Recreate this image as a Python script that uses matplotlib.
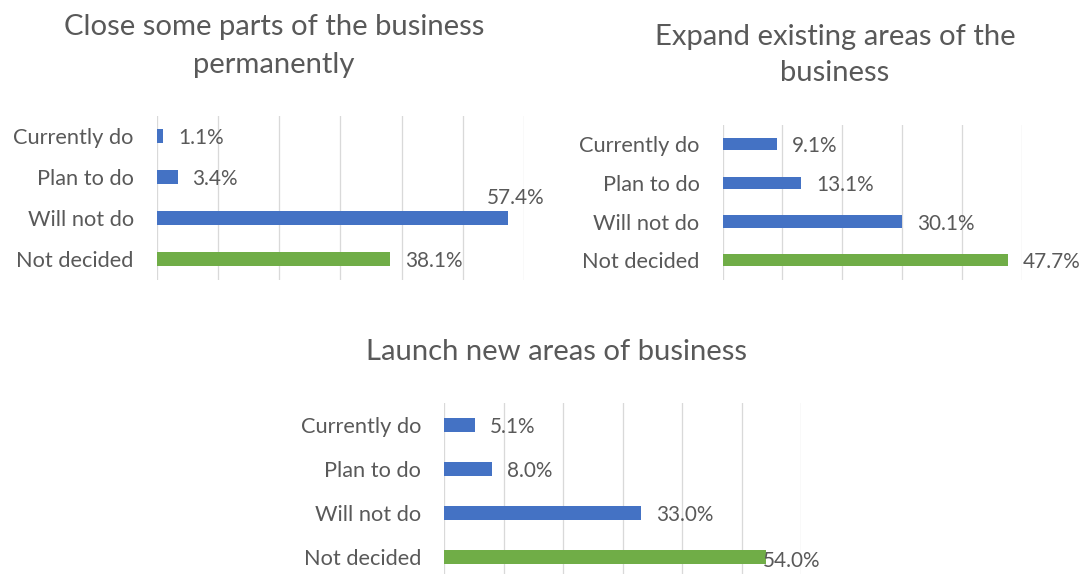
import matplotlib
matplotlib.use("Agg")
import matplotlib.pyplot as plt

# ---------------- data ----------------
categories = ["Currently do", "Plan to do", "Will not do", "Not decided"]
close_values = [1.1, 3.4, 57.4, 38.1]
expand_values = [9.1, 13.1, 30.1, 47.7]
launch_values = [5.1, 8.0, 33.0, 54.0]
titles = [
    "Close some parts of the business\npermanently",
    "Expand existing areas of the\nbusiness",
    "Launch new areas of business",
]

# ---------------- style ----------------
BLUE = "#4472C4"
GREEN = "#70AD47"
TEXT = "#595959"
GRID = "#D9D9D9"
FAMILY = ["Lato", "DejaVu Sans"]
bar_colors = [BLUE, BLUE, BLUE, GREEN]

W, H = 1083, 574
fig = plt.figure(figsize=(W / 100, H / 100), dpi=100)
fig.patch.set_facecolor("white")
renderer = fig.canvas.get_renderer()


def fit_size(text, target_px, base=20):
    t = fig.text(0, 0, text, fontsize=base, family=FAMILY)
    w = t.get_window_extent(renderer).width
    t.remove()
    return base * target_px / w


title_fs = fit_size("Launch new areas of business", 382)
tick_fs = fit_size("Not decided", 117.5)
label_fs = fit_size("47.7%", 57.5)

PX = 72 / 100  # points per pixel

# panel layout in pixels
panels = [
    dict(values=close_values, title=titles[0], x0=156.7, x1=524.0, ytop=115.5, ybot=279.5,
         xmax=60, tcx=274, tbase=[35, 73],
         special={2: ("above", 7.4, 21.6)}),
    dict(values=expand_values, title=titles[1], x0=722.5, x1=1021.5, ytop=125.0, ybot=279.5,
         xmax=50, tcx=835, tbase=[45, 81], special={}),
    dict(values=launch_values, title=titles[2], x0=444.3, x1=801.3, ytop=402.7, ybot=579.5,
         xmax=60, tcx=557, tbase=[360.5], special={3: ("inside", -2.5, -2)}),
]

for p in panels:
    ax = fig.add_axes([p["x0"] / W, 1 - p["ybot"] / H,
                       (p["x1"] - p["x0"]) / W, (p["ybot"] - p["ytop"]) / H])
    ypos = list(range(len(categories)))
    ax.barh(ypos, p["values"], height=0.32, color=bar_colors, zorder=3)
    ax.set_xlim(0, p["xmax"])
    ax.set_ylim(len(categories) - 0.5, -0.5)
    ax.set_xticks(range(0, p["xmax"] + 1, 10))
    ax.set_xticklabels([])
    ax.set_yticks(ypos)
    ax.set_yticklabels(categories, fontsize=tick_fs, color=TEXT, family=FAMILY)
    ax.tick_params(axis="both", length=0)
    ax.tick_params(axis="y", pad=23 * PX)
    ax.grid(axis="x", color=GRID, linewidth=1.3 * PX, zorder=0)
    ax.set_axisbelow(True)
    for s in ax.spines.values():
        s.set_visible(False)
    ax.patch.set_alpha(0)

    for i, v in enumerate(p["values"]):
        lbl = f"{v:.1f}%"
        if i in p["special"]:
            mode, dx, dy = p["special"][i]
            ha = "center" if mode == "above" else "left"
            ax.annotate(lbl, (v, i), xytext=(dx * PX, dy * PX), textcoords="offset points",
                        ha=ha, va="center_baseline", fontsize=label_fs,
                        color=TEXT, family=FAMILY, annotation_clip=False, zorder=5)
        else:
            ax.annotate(lbl, (v, i), xytext=(15 * PX, 0), textcoords="offset points",
                        ha="left", va="center_baseline", fontsize=label_fs,
                        color=TEXT, family=FAMILY, annotation_clip=False, zorder=5)

    for line, yb in zip(p["title"].split("\n"), p["tbase"]):
        fig.text(p["tcx"] / W, 1 - yb / H, line, ha="center", va="baseline",
                 fontsize=title_fs, color=TEXT, family=FAMILY)

fig.savefig("out.png", dpi=100, facecolor="white")
